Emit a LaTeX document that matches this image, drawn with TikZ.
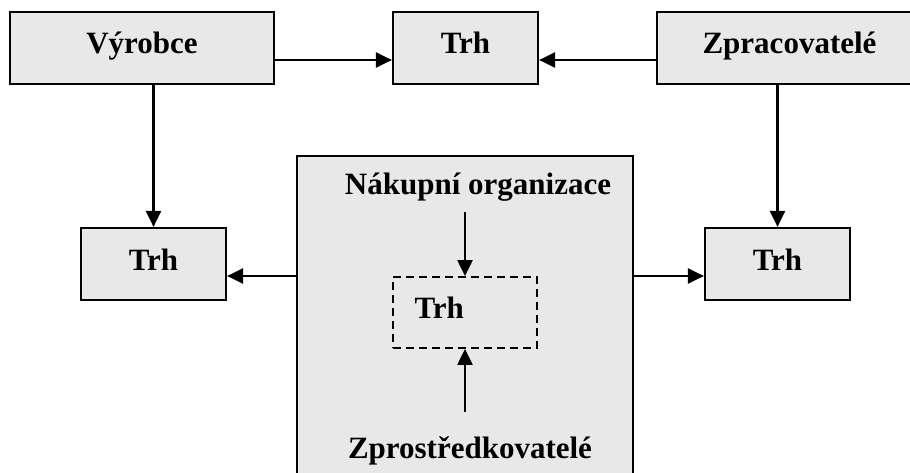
\documentclass[tikz,border=0pt]{standalone}
\usepackage{fontspec}
\setmainfont{Liberation Serif}
\usepackage{tikz}
\usetikzlibrary{arrows.meta}
\definecolor{box gray}{RGB}{232,232,232}

\begin{document}
\begin{tikzpicture}[x=1pt, y=-1pt,
		font=\fontsize{31}{37}\selectfont\bfseries,
		box/.style={draw, fill=box gray, line width=2.2pt, inner sep=0pt,
			text height=22pt, text depth=10pt},
		arr/.style={line width=2.2pt, -{Triangle[length=16pt, width=15pt]}}]
			\useasboundingbox (0, 0) rectangle (910, 473);
			% top row
			\node[box, minimum width=264, minimum height=72] (vyrobce) at (142, 48) {Výrobce};
			\node[box, minimum width=145, minimum height=72] (trhtop) at (465.5, 48) {Trh};
			\node[box, minimum width=265, minimum height=72] (zprac) at (789.5, 48) {Zpracovatelé};
			% middle row
			\node[box, minimum width=145, minimum height=72] (trhleft) at (153.5, 264) {Trh};
			\node[box, minimum width=145, minimum height=72] (trhright) at (777.5, 264) {Trh};
			% centre block
			\node[box, minimum width=336, minimum height=320] (nakup) at (465, 316) {};
			\node[anchor=base, inner sep=0pt] (orgtext) at (478, 195) {Nákupní organizace};
			\node[anchor=base, inner sep=0pt] (zprostr) at (470, 458) {Zprostředkovatelé};
			\node[draw, dashed, dash pattern=on 8pt off 5pt, line width=1.8pt,
				minimum width=144, minimum height=71, inner xsep=21.5pt,
				text width=101pt, align=left, text height=22pt, text depth=10pt]
				(trhmid) at (465, 312.5) {Trh};
			% connectors
			\draw[arr] ([yshift=-12pt]vyrobce.east) -- ([yshift=-12pt]trhtop.west);
			\draw[arr] ([yshift=-12pt]zprac.west) -- ([yshift=-12pt]trhtop.east);
			\draw[arr] (vyrobce.south -| trhleft.north) -- (trhleft.north);
			\draw[arr] (zprac.south -| trhright.north) -- (trhright.north);
			\draw[arr] ([yshift=-12pt]trhleft.east -| nakup.west) -- ([yshift=-12pt]trhleft.east);
			\draw[arr] ([yshift=-12pt]trhright.west -| nakup.east) -- ([yshift=-12pt]trhright.west);
			\draw[arr, shorten <=10pt] (orgtext.south -| trhmid.north) -- (trhmid.north);
			\draw[arr, shorten <=24pt] (zprostr.north -| trhmid.south) -- (trhmid.south);
		\end{tikzpicture}
\end{document}
